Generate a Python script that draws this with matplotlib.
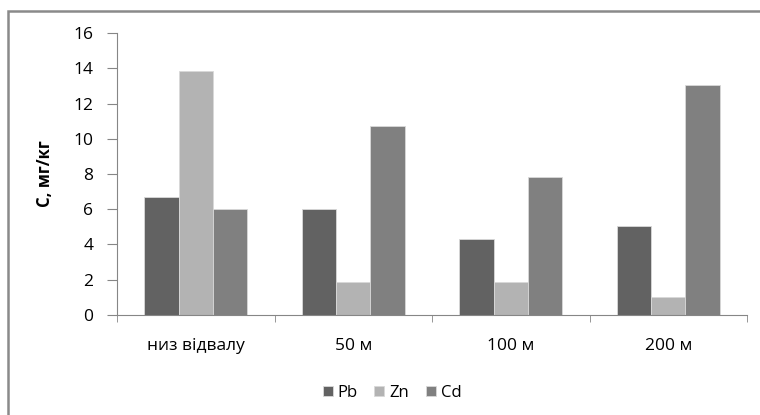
import matplotlib
matplotlib.use('Agg')
import matplotlib.pyplot as plt
import matplotlib.patches as mpatches
import numpy as np

plt.rcParams['font.family'] = ['Open Sans', 'DejaVu Sans']

# Data
categories = ['низ відвалу', '50 м', '100 м', '200 м']
series_names = ['Pb', 'Zn', 'Cd']
pb = [6.7, 6.0, 4.32, 5.04]
zn = [13.85, 1.84, 1.84, 1.0]
cd = [6.0, 10.74, 7.85, 13.04]
colors = ['#626262', '#b3b3b3', '#808080']
y_ticks = [0, 2, 4, 6, 8, 10, 12, 14, 16]

W, H = 760, 415
fig = plt.figure(figsize=(W / 100, H / 100), dpi=100)
ax = fig.add_axes([117 / W, 1 - 314.7 / H, (747 - 117) / W, (314.7 - 33.3) / H])

# Outer chart frame
frame = mpatches.Rectangle((8 / W, -0.05), 1.2, 1 - 11 / H + 0.05,
                           transform=fig.transFigure, fill=False,
                           edgecolor='#8a8a8a', linewidth=1.8)
fig.patches.append(frame)

x = np.arange(len(categories))
bw = 0.219
for i, (vals, name) in enumerate(zip([pb, zn, cd], series_names)):
    ax.bar(x + (i - 1) * bw, vals, width=bw, color=colors[i], label=name,
           edgecolor='#d9d9d9', linewidth=0.6)

ax.set_xlim(-0.5, len(categories) - 0.5)
ax.set_ylim(0, 16)
ax.set_yticks(y_ticks)
ax.set_xticks(x)
ax.set_xticklabels(categories, fontsize=12.5)
ax.tick_params(axis='x', length=0, pad=17)
ax.set_xticks(np.arange(len(categories) + 1) - 0.5, minor=True)
ax.tick_params(axis='x', which='minor', length=5, color='#868686')
ax.tick_params(axis='y', length=7, color='#868686', labelsize=12.5, pad=10)

for s in ['top', 'right']:
    ax.spines[s].set_visible(False)
for s in ['left', 'bottom']:
    ax.spines[s].set_color('#868686')

ax.set_ylabel('С, мг/кг', fontsize=12, weight='bold', labelpad=14)

fig.legend(loc='center', bbox_to_anchor=(392 / W, 1 - 393 / H), ncol=3,
           frameon=False, fontsize=12, handlelength=0.6, handleheight=0.6,
           handletextpad=0.3, columnspacing=1.0)

plt.savefig('out.png', dpi=100)
plt.close(fig)
